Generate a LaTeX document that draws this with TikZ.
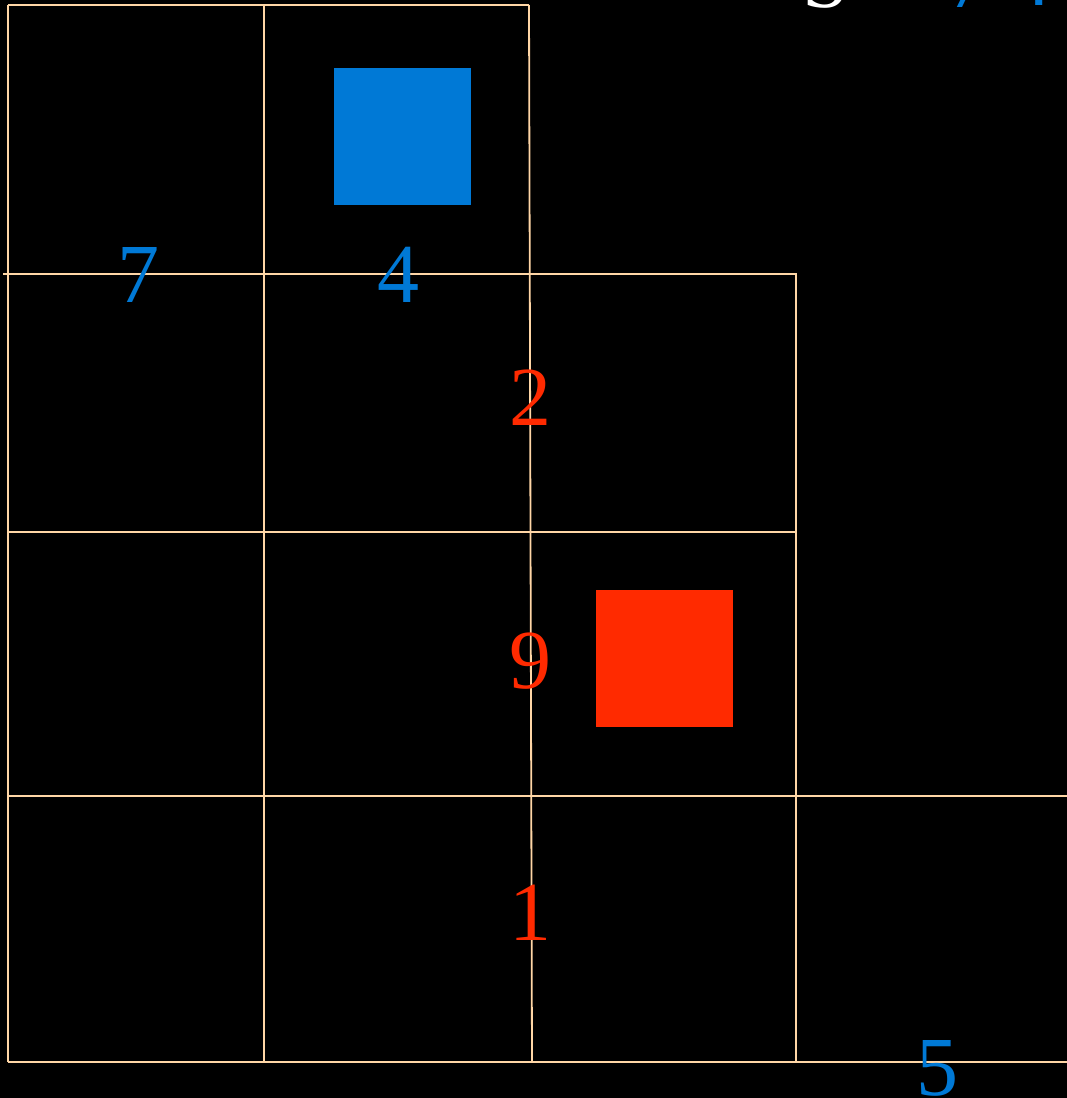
\documentclass[tikz,border=0pt]{standalone}
\usepackage{fontspec}
\setmainfont{Liberation Serif}
\definecolor{gridc}{HTML}{FFD6A6}
\definecolor{blueA}{HTML}{0079D6}
\definecolor{redA}{HTML}{FF2A00}
\tikzset{
  gl/.style={draw=gridc, line width=1.8pt},
  dig/.style={anchor=base, inner sep=0pt, font=\fontsize{84}{84}\selectfont},
  bdig/.style={dig, text=blueA},
  rdig/.style={dig, text=redA},
  sq/.style={draw=none, minimum size=137pt, inner sep=0pt, anchor=north west}
}
\begin{document}
\begin{tikzpicture}[x=1pt,y=-1pt]
\fill[black] (0,0) rectangle (1067,1098);
\useasboundingbox (0,0) rectangle (1067,1098);
\clip (0,0) rectangle (1067,1098);
% grid
\draw[gl] (8,5) -- (529,5);
\draw[gl] (3,274) -- (797,274);
\draw[gl] (8,532) -- (795,532);
\draw[gl] (8,796) -- (1067,796);
\draw[gl] (8,1062) -- (1067,1062);
\draw[gl] (8,5) -- (8,1062);
\draw[gl] (264,5) -- (264,1062);
\draw[gl] (529,5) -- (532,1062);
\draw[gl] (796,274) -- (796,1062);
% squares
\node[sq, fill=blueA] (bsq) at (334,68) {};
\node[sq, fill=redA] (rsq) at (596,590) {};
% digits
\node[bdig] (d7) at (138,302) {7};
\node[bdig] (d4) at (398,302) {4};
\node[rdig] (d2) at (530,425) {2};
\node[rdig] (d9) at (530,688) {9};
\node[rdig] (d1) at (530,940) {1};
\node[bdig] (d5) at (937,1095) {5};
% clipped top-right text
\node[dig, text=white] (tS) at (826,7) {S};
\node[bdig] (t7) at (968,7) {7};
\node[bdig] (t4) at (1030,5) {4};
\end{tikzpicture}
\end{document}
